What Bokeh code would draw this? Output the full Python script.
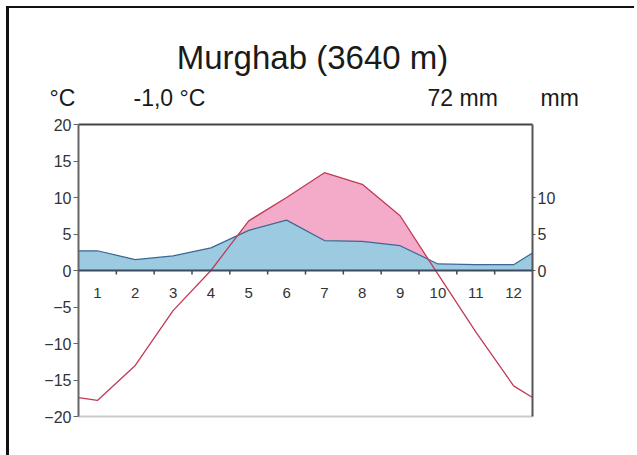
import numpy as np
from bokeh.plotting import figure
from bokeh.models import LinearAxis, FixedTicker, Span
from bokeh.core.properties import value
from bokeh.embed import file_html
from bokeh.resources import INLINE

# Climate record for Murghab (Walter-Lieth style)
months = [1, 2, 3, 4, 5, 6, 7, 8, 9, 10, 11, 12]
temperature = [-17.8, -13.0, -5.5, 0.0, 6.8, 10.0, 13.4, 11.8, 7.5, -0.5, -8.4, -15.8]
precipitation = [2.7, 1.5, 2.0, 3.1, 5.5, 6.9, 4.1, 4.0, 3.4, 0.9, 0.8, 0.8]
# values at the year boundary (left and right border of the diagram)
temp_edges = [-17.4, -17.4]
precip_edges = [2.7, 2.4]

temp_ticks = [-20, -15, -10, -5, 0, 5, 10, 15, 20]
precip_ticks = [0, 5, 10]

station_title = "Murghab (3640 m)"
temp_unit = "°C"
precip_unit = "mm"
mean_temp_text = "-1,0 °C"
total_precip_text = "72 mm"

FONT = "Liberation Sans"

# curve nodes: border, month centres, border
x_nodes = [0.0] + [m - 0.5 for m in months] + [12.0]
t_nodes = [temp_edges[0]] + temperature + [temp_edges[1]]
p_nodes = [precip_edges[0]] + precipitation + [precip_edges[1]]

# insert the intersections of both curves so the arid fill follows them exactly
xs, ts, ps = [], [], []
for i in range(len(x_nodes) - 1):
    xs.append(x_nodes[i]); ts.append(t_nodes[i]); ps.append(p_nodes[i])
    d0 = t_nodes[i] - p_nodes[i]
    d1 = t_nodes[i + 1] - p_nodes[i + 1]
    if d0 * d1 < 0:
        f = d0 / (d0 - d1)
        xs.append(x_nodes[i] + f * (x_nodes[i + 1] - x_nodes[i]))
        ts.append(t_nodes[i] + f * (t_nodes[i + 1] - t_nodes[i]))
        ps.append(p_nodes[i] + f * (p_nodes[i + 1] - p_nodes[i]))
xs.append(x_nodes[-1]); ts.append(t_nodes[-1]); ps.append(p_nodes[-1])
ps = np.array(ps)
upper = np.maximum(np.array(ts), ps)

# page geometry (pixels)
MARGIN = 6
BORDER_L, BORDER_T = 3, 2
ORIGIN_X, ORIGIN_Y = MARGIN + BORDER_L, MARGIN + BORDER_T   # inside the corner border
HEADER_H = 108
FRAME_L, FRAME_R, FRAME_T, FRAME_B = 78, 532, 124, 416
W = 637 - ORIGIN_X
MAIN_TOP = ORIGIN_Y + HEADER_H
MAIN_H = 455 - MAIN_TOP

X_MIN, X_MAX, Y_MIN, Y_MAX = 0, 12, -20, 20


def px_y(py):
    return Y_MAX - (py - FRAME_T) * (Y_MAX - Y_MIN) / (FRAME_B - FRAME_T)


# header strip: page pixel coordinates, y pointing down
# (the element box includes its CSS border; the canvas keeps the full size)
HEADER_CANVAS_H = HEADER_H + BORDER_T
header = figure(width=W, height=HEADER_CANVAS_H,
                x_range=(ORIGIN_X, ORIGIN_X + W),
                y_range=(ORIGIN_Y + HEADER_CANVAS_H, ORIGIN_Y),
                x_axis_type=None, y_axis_type=None, min_border=0,
                output_backend="svg", toolbar_location=None, outline_line_color=None)
header.text(x=[312], y=[57], text=[station_title],
            text_align="center", text_baseline="middle",
            text_font=value(FONT), text_font_size="33px", text_color="#1a1a1a")
sub_x = [49, 133, 427, 540]
sub_text = [temp_unit, mean_temp_text, total_precip_text, precip_unit]
header.text(x=sub_x, y=[97] * len(sub_x), text=sub_text,
            text_align="left", text_baseline="middle",
            text_font=value(FONT), text_font_size="23px", text_color="#1a1a1a")
header.styles = {
    "margin-left": f"{MARGIN}px", "margin-top": f"{MARGIN}px",
    "border-left": f"{BORDER_L}px solid #111111", "border-top": f"{BORDER_T}px solid #111111",
}

p = figure(
    width=W, height=MAIN_H,
    x_range=(X_MIN, X_MAX), y_range=(Y_MIN, Y_MAX),
    x_axis_type=None, y_axis_type=None,
    min_border_left=FRAME_L - ORIGIN_X,
    min_border_right=(637 - FRAME_R),
    min_border_top=FRAME_T - MAIN_TOP,
    min_border_bottom=455 - FRAME_B,
    output_backend="svg", toolbar_location=None,
    outline_line_color=None, background_fill_color="white",
    border_fill_color="white",
)
p.styles = {"margin-left": f"{MARGIN}px", "border-left": f"{BORDER_L}px solid #111111"}

# precipitation (blue) and arid period (pink)
p.varea(x=x_nodes, y1=0, y2=p_nodes, fill_color="#9ccae0")
p.varea(x=xs, y1=ps, y2=upper, fill_color="#f3abc9")
p.line(x=x_nodes, y=p_nodes, line_color="#3a6893", line_width=1.2)
p.line(x=x_nodes, y=t_nodes, line_color="#c23a55", line_width=1.3)

# zero line with month separators and month numbers
p.add_layout(Span(location=0, dimension="width", line_color="#3b4a5c", line_width=2))
sep = months[:-1]
p.segment(x0=sep, y0=[0] * len(sep), x1=sep, y1=[px_y(274)] * len(sep),
          line_color="#3b4a5c", line_width=1.5)
p.text(x=[m - 0.5 for m in months], y=[px_y(292)] * len(months),
       text=[str(m) for m in months], text_align="center", text_baseline="middle",
       text_font=value(FONT), text_font_size="15px", text_color="#333333")

axis_style = dict(
    major_tick_in=0, minor_tick_in=0, minor_tick_out=0,
    major_label_text_font=FONT, major_label_text_font_size="16px",
    major_label_text_color="#333333",
)
left = LinearAxis(ticker=FixedTicker(ticks=temp_ticks), major_tick_out=5,
                  axis_line_color="#666666", axis_line_width=2,
                  major_tick_line_color="#666666", major_label_standoff=2, **axis_style)
right = LinearAxis(ticker=FixedTicker(ticks=precip_ticks), major_tick_out=3,
                   axis_line_color="#555555", axis_line_width=2,
                   major_tick_line_color="#555555", major_label_standoff=2, **axis_style)
frame_style = dict(ticker=FixedTicker(ticks=[]), major_tick_line_color=None,
                   major_tick_out=0, major_label_standoff=0, major_label_text_font_size="0px",
                   axis_line_width=2)
top = LinearAxis(axis_line_color="#444444", **frame_style)
bottom = LinearAxis(axis_line_color="#cccccc", **frame_style)
p.add_layout(left, "left")
p.add_layout(right, "right")
p.add_layout(top, "above")
p.add_layout(bottom, "below")

open("out.html", "w").write(file_html([header, p], INLINE))
